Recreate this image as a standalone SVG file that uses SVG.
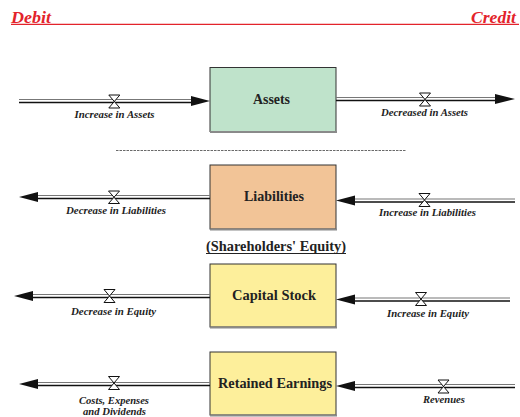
<svg xmlns="http://www.w3.org/2000/svg" width="520" height="417" viewBox="0 0 520 417">
<style>
text{font-family:"Liberation Serif","Times New Roman",Tinos,"DejaVu Serif",serif}
.hdr{font-weight:bold;font-style:italic;font-size:17px;fill:#e3232b}
.box{stroke:#333;stroke-width:1}
.shadow{stroke:#8a8a8a;stroke-width:2}
.name{font-weight:bold;font-size:14px;fill:#222;text-anchor:middle}
.lbl{font-weight:bold;font-style:italic;font-size:10.5px;fill:#222;text-anchor:middle}
.pa{stroke:#777;stroke-width:1.2;fill:none}
.pb{stroke:#111;stroke-width:1.5;fill:none}
.head{fill:#111}
.valve{fill:#fff;stroke:#111;stroke-width:1}
</style>
<g id="header">
<text class="hdr" x="11" y="22.5" textLength="40" lengthAdjust="spacingAndGlyphs">Debit</text>
<text class="hdr" x="471" y="22.5" textLength="45" lengthAdjust="spacingAndGlyphs">Credit</text>
<line x1="11" y1="24.3" x2="519" y2="24.3" stroke="#e3232b" stroke-width="1.2"/>
</g>
<line id="divider" x1="116" y1="150.5" x2="406" y2="150.5" stroke="#444" stroke-width="0.8" stroke-dasharray="2.5 1"/>
<g id="equity-title">
<text class="name" x="276" y="251" textLength="140" lengthAdjust="spacingAndGlyphs">(Shareholders' Equity)</text>
<line x1="206" y1="253.5" x2="346" y2="253.5" stroke="#222" stroke-width="1"/>
</g>
<g id="assets">
<rect class="box" x="210" y="67.5" width="126" height="64" fill="#bfe3cb"/>
<line class="shadow" x1="210" y1="132" x2="337" y2="132"/>
<text class="name" x="271.5" y="104" textLength="37" lengthAdjust="spacingAndGlyphs">Assets</text>
</g>
<g id="liabilities">
<rect class="box" x="210" y="165" width="126" height="64" fill="#f2c497"/>
<line class="shadow" x1="210" y1="229.5" x2="337" y2="229.5"/>
<text class="name" x="274" y="201" textLength="60" lengthAdjust="spacingAndGlyphs">Liabilities</text>
</g>
<g id="capital-stock">
<rect class="box" x="210" y="264" width="126" height="63" fill="#fdef9b"/>
<line class="shadow" x1="210" y1="327.5" x2="337" y2="327.5"/>
<text class="name" x="274" y="300" textLength="84" lengthAdjust="spacingAndGlyphs">Capital Stock</text>
</g>
<g id="retained-earnings">
<rect class="box" x="210" y="352" width="126" height="63" fill="#fdef9b"/>
<line class="shadow" x1="210" y1="415.5" x2="337" y2="415.5"/>
<text class="name" x="275" y="388" textLength="114" lengthAdjust="spacingAndGlyphs">Retained Earnings</text>
</g>
<g id="connectors">
<g>
<line class="pa" x1="19" y1="99.5" x2="193" y2="99.5"/>
<line class="pb" x1="19" y1="102.5" x2="193" y2="102.5"/>
<polygon class="head" points="191,96 210,101 191,106"/>
<polygon class="valve" points="108.8,95 119.8,95 108.8,108 119.8,108"/>
<text class="lbl" x="114.5" y="118" textLength="80" lengthAdjust="spacingAndGlyphs">Increase in Assets</text>
</g>
<g>
<line class="pa" x1="336" y1="97.5" x2="497" y2="97.5"/>
<line class="pb" x1="336" y1="100.5" x2="497" y2="100.5"/>
<polygon class="head" points="495,94 515,99 495,104"/>
<polygon class="valve" points="419.5,93 430.5,93 419.5,106 430.5,106"/>
<text class="lbl" x="424.5" y="116" textLength="87" lengthAdjust="spacingAndGlyphs">Decreased in Assets</text>
</g>
<g>
<line class="pa" x1="36" y1="195.5" x2="210" y2="195.5"/>
<line class="pb" x1="36" y1="198.5" x2="210" y2="198.5"/>
<polygon class="head" points="38,192 19,197 38,202"/>
<polygon class="valve" points="108.5,191 119.5,191 108.5,203.5 119.5,203.5"/>
<text class="lbl" x="116" y="213.5" textLength="100" lengthAdjust="spacingAndGlyphs">Decrease in Liabilities</text>
</g>
<g>
<line class="pa" x1="353" y1="199" x2="515" y2="199"/>
<line class="pb" x1="353" y1="202" x2="515" y2="202"/>
<polygon class="head" points="355,195.5 336,200.5 355,205.5"/>
<polygon class="valve" points="419,193.5 430,193.5 419,206.5 430,206.5"/>
<text class="lbl" x="427.5" y="216" textLength="97" lengthAdjust="spacingAndGlyphs">Increase in Liabilities</text>
</g>
<g>
<line class="pa" x1="31" y1="294.5" x2="210" y2="294.5"/>
<line class="pb" x1="31" y1="297.5" x2="210" y2="297.5"/>
<polygon class="head" points="33,291 14,296 33,301"/>
<polygon class="valve" points="104,289.5 115,289.5 104,302.5 115,302.5"/>
<text class="lbl" x="113.5" y="314.5" textLength="85" lengthAdjust="spacingAndGlyphs">Decrease in Equity</text>
</g>
<g>
<line class="pa" x1="353" y1="298" x2="510" y2="298"/>
<line class="pb" x1="353" y1="301" x2="510" y2="301"/>
<polygon class="head" points="355,294.5 336,299.5 355,304.5"/>
<polygon class="valve" points="415.5,292.5 426.5,292.5 415.5,305.5 426.5,305.5"/>
<text class="lbl" x="428" y="316.5" textLength="82" lengthAdjust="spacingAndGlyphs">Increase in Equity</text>
</g>
<g>
<line class="pa" x1="36" y1="382.5" x2="210" y2="382.5"/>
<line class="pb" x1="36" y1="385.5" x2="210" y2="385.5"/>
<polygon class="head" points="38,379 19,384 38,389"/>
<polygon class="valve" points="108.5,376.5 119.5,376.5 108.5,389.5 119.5,389.5"/>
<text class="lbl" x="114" y="403.5" textLength="70" lengthAdjust="spacingAndGlyphs">Costs, Expenses</text>
<text class="lbl" x="114.5" y="414.5" textLength="63" lengthAdjust="spacingAndGlyphs">and Dividends</text>
</g>
<g>
<line class="pa" x1="353" y1="384.5" x2="515" y2="384.5"/>
<line class="pb" x1="353" y1="387.5" x2="515" y2="387.5"/>
<polygon class="head" points="355,381 336,386 355,391"/>
<polygon class="valve" points="438,380 449,380 438,393 449,393"/>
<text class="lbl" x="444" y="402.5" textLength="42" lengthAdjust="spacingAndGlyphs">Revenues</text>
</g>
</g>
</svg>
